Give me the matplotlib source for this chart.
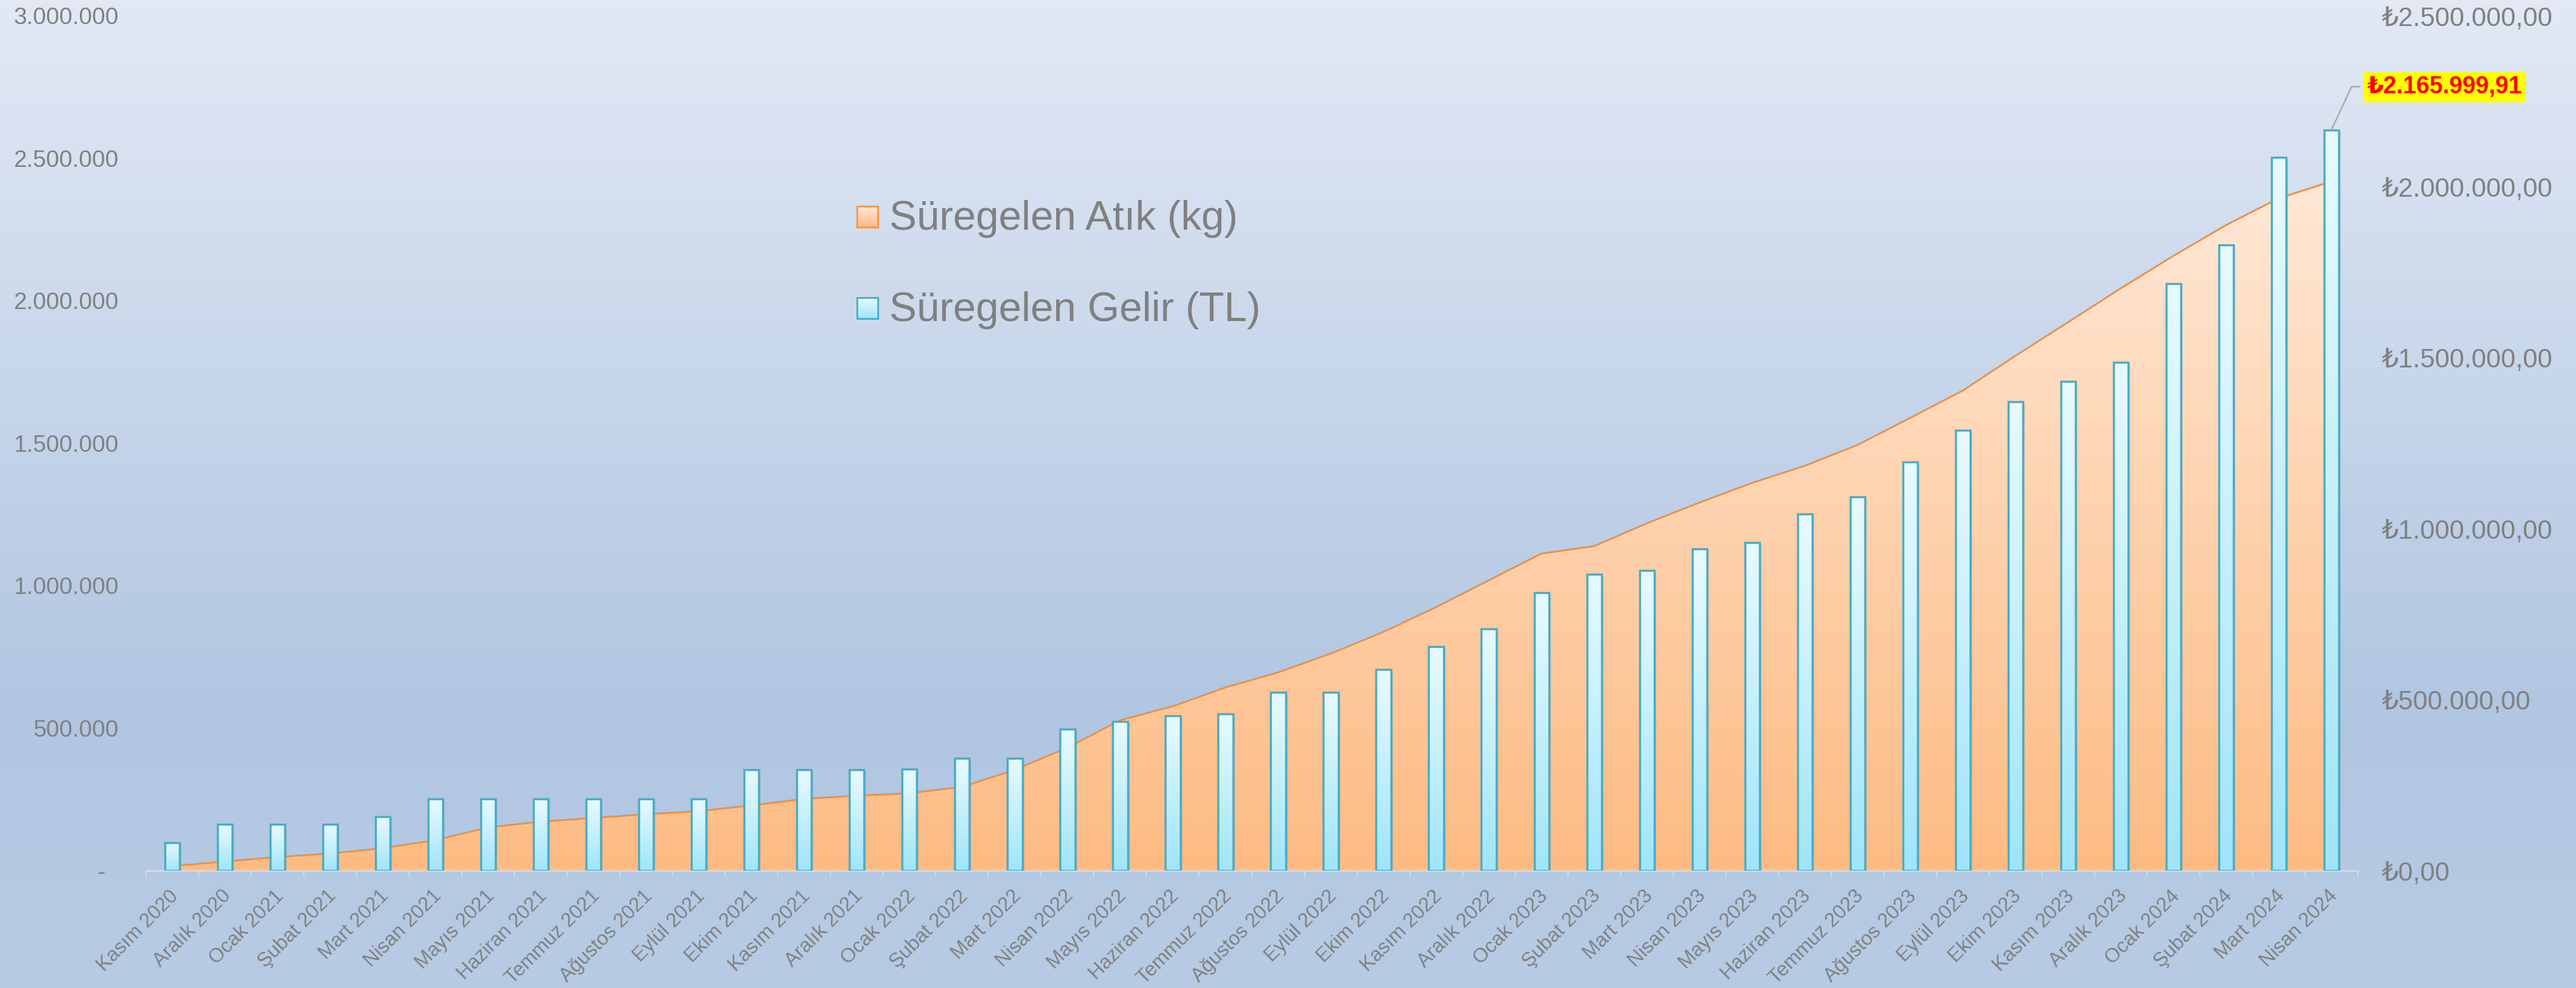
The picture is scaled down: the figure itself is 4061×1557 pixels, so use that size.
import numpy as np
import matplotlib
matplotlib.use('Agg')
import matplotlib.pyplot as plt
from matplotlib.colors import LinearSegmentedColormap
from matplotlib.patches import Rectangle
from matplotlib import transforms

plt.rcParams['font.family'] = ['Liberation Sans', 'DejaVu Sans']

# ---------------- data ----------------
months = ["Kasım 2020", "Aralık 2020",
          "Ocak 2021", "Şubat 2021", "Mart 2021", "Nisan 2021", "Mayıs 2021", "Haziran 2021",
          "Temmuz 2021", "Ağustos 2021", "Eylül 2021", "Ekim 2021", "Kasım 2021", "Aralık 2021",
          "Ocak 2022", "Şubat 2022", "Mart 2022", "Nisan 2022", "Mayıs 2022", "Haziran 2022",
          "Temmuz 2022", "Ağustos 2022", "Eylül 2022", "Ekim 2022", "Kasım 2022", "Aralık 2022",
          "Ocak 2023", "Şubat 2023", "Mart 2023", "Nisan 2023", "Mayıs 2023", "Haziran 2023",
          "Temmuz 2023", "Ağustos 2023", "Eylül 2023", "Ekim 2023", "Kasım 2023", "Aralık 2023",
          "Ocak 2024", "Şubat 2024", "Mart 2024", "Nisan 2024"]

atik_kg = [15000, 31000, 47000, 59000, 78000, 106000, 151000, 171000, 184000, 197000,
           208000, 228000, 251000, 262000, 271000, 293000, 353000, 431000, 527000, 576000,
           642000, 695000, 761000, 837000, 924000, 1018000, 1112000, 1138000, 1218000, 1291000,
           1360000, 1420000, 1493000, 1588000, 1684000, 1806000, 1924000, 2043000, 2157000, 2265000,
           2359000, 2418000]

gelir_tl = [80000, 135000, 135000, 135000, 157000, 209000, 209000, 209000, 209000, 209000,
            209000, 294000, 294000, 294000, 296000, 328000, 328000, 413000, 435000, 452000,
            458000, 521000, 521000, 588000, 654000, 706000, 813000, 866000, 877000, 940000,
            959000, 1043000, 1093000, 1194000, 1288000, 1370000, 1431000, 1485000, 1716000, 1830000,
            2085000, 2165999.91]

left_ticks = [0, 500000, 1000000, 1500000, 2000000, 2500000, 3000000]
right_ticks = [0, 500000, 1000000, 1500000, 2000000, 2500000]

legend_labels = ["Süregelen Atık (kg)", "Süregelen Gelir (TL)"]

# ---------------- helpers ----------------
def tr_int(v):
    return f"{int(round(v)):,}".replace(",", ".")

def tr_money(v):
    s = f"{v:,.2f}"
    s = s.replace(",", "X").replace(".", ",").replace("X", ".")
    return "₺" + s

GRAY = '#808080'
W, H = 4062, 1557
fig = plt.figure(figsize=(W / 100, H / 100), dpi=100)

# background gradient
bg = fig.add_axes([0, 0, 1, 1], zorder=-10)
bg.axis('off')
bg_cmap = LinearSegmentedColormap.from_list(
    'bg', [(0.0, '#E2E9F5'), (0.72, '#B1C6E1'), (1.0, '#B7CBE4')])
grad = np.linspace(0, 1, 512).reshape(-1, 1)
bg.imshow(grad, cmap=bg_cmap, aspect='auto', extent=[0, 1, 0, 1], origin='upper')
bg.set_xlim(0, 1)
bg.set_ylim(0, 1)

# main axes
L, B = 230 / W, (H - 1371.6) / H
AW, AH = (3717 - 230) / W, (1371.6 - 24.6) / H
ax = fig.add_axes([L, B, AW, AH])
ax.set_facecolor('none')
x = np.arange(len(months))

# area with gradient
poly = ax.fill_between(x, 0, atik_kg, facecolor='none', edgecolor='none', zorder=1)
area_cmap = LinearSegmentedColormap.from_list('area', ['#FDBB83', '#FFE8D6'])
gv = np.linspace(0, 1, 256).reshape(-1, 1)
im = ax.imshow(gv, cmap=area_cmap, aspect='auto', origin='lower',
               extent=[x[0], x[-1], 0, max(atik_kg)], zorder=1)
im.set_clip_path(poly.get_paths()[0], transform=ax.transData)
ax.plot(x, atik_kg, color='#F28E3C', lw=2.0, zorder=2, solid_joinstyle='round')

ax.set_xlim(-0.5, len(months) - 0.5)
ax.set_ylim(0, 3000000)

for s in ['top', 'left', 'right']:
    ax.spines[s].set_visible(False)
ax.spines['bottom'].set_color('#D3D9E2')
ax.spines['bottom'].set_linewidth(2.0)

ax.set_xticks(x)
ax.set_xticklabels(months, rotation=45, ha='right', va='center', rotation_mode='anchor',
                   fontsize=22.5, color=GRAY)
ax.tick_params(axis='x', which='major', length=0, pad=26)
shift = transforms.ScaledTranslation(5 / 100, 0, fig.dpi_scale_trans)
for lbl in ax.get_xticklabels():
    lbl.set_transform(lbl.get_transform() + shift)
ax.set_xticks(np.arange(-0.5, len(months), 1.0), minor=True)
ax.tick_params(axis='x', which='minor', length=7, width=1.6, color='#D3D9E2', direction='out')

ax.set_yticks(left_ticks)
ax.set_yticklabels(['-  ' if v == 0 else tr_int(v) for v in left_ticks],
                   fontsize=26.7, color=GRAY)
ax.tick_params(axis='y', length=0, pad=31)

# bars on secondary axis
ax2 = ax.twinx()
for s in ['top', 'left', 'right', 'bottom']:
    ax2.spines[s].set_visible(False)
bw = 0.28
shadow_tr = transforms.offset_copy(ax2.transData, fig=fig, x=3, y=-3, units='dots')
ax2.bar(x, gelir_tl, width=bw, color=(0.35, 0.3, 0.3, 0.18), edgecolor='none',
        zorder=1.5, transform=shadow_tr)
bars = ax2.bar(x, gelir_tl, width=bw, facecolor='none', edgecolor='#4BACC6',
               linewidth=2.4, zorder=3)
bar_cmap = LinearSegmentedColormap.from_list('bar', ['#9FE5FA', '#E8FAFF'])
for b in bars:
    x0, w, h = b.get_x(), b.get_width(), b.get_height()
    bi = ax2.imshow(gv, cmap=bar_cmap, aspect='auto', origin='lower',
                    extent=[x0, x0 + w, 0, h], zorder=2)
    bi.set_clip_path(b)
ax2.set_xlim(-0.5, len(months) - 0.5)
ax2.set_ylim(0, 2500000)
ax2.set_yticks(right_ticks)
ax2.set_yticklabels([tr_money(v) for v in right_ticks], fontsize=30, color=GRAY)
ax2.tick_params(axis='y', length=0, pad=27)

# data label on the last bar
ax2.annotate(tr_money(gelir_tl[-1]), xy=(x[-1], gelir_tl[-1]), xytext=(56, 68),
             textcoords='offset pixels', ha='left', va='center',
             fontsize=27, fontweight='bold', color='#FF0000',
             bbox=dict(boxstyle='square,pad=0.16', fc='#FFFF00', ec='none'),
             arrowprops=dict(arrowstyle='-', color='#A6A6A6', lw=1.6,
                             connectionstyle='angle,angleA=0,angleB=65,rad=0',
                             shrinkA=4, shrinkB=0),
             zorder=10, annotation_clip=False)

# legend (manual, in pixel coordinates)
ov = fig.add_axes([0, 0, 1, 1], zorder=20)
ov.axis('off')
leg_specs = [
    (legend_labels[0], '#FFE8D6', '#FDBB83', '#F79646', 325, 358, 362),
    (legend_labels[1], '#E8FAFF', '#9FE5FA', '#4BACC6', 469, 502, 506),
]
for lab, ctop, cbot, cedge, y0, y1, ybase in leg_specs:
    cm = LinearSegmentedColormap.from_list('lg', [ctop, cbot])
    ov.imshow(gv, cmap=cm, aspect='auto', origin='upper', extent=[1351, 1384, y1, y0])
    ov.add_patch(Rectangle((1351, y0), 33, y1 - y0, facecolor='none', edgecolor=cedge, lw=2.0))
    ov.text(1402, ybase, lab, fontsize=46.5, color=GRAY, ha='left', va='baseline')
ov.set_xlim(0, W)
ov.set_ylim(H, 0)

fig.savefig('out.png', dpi=100)
